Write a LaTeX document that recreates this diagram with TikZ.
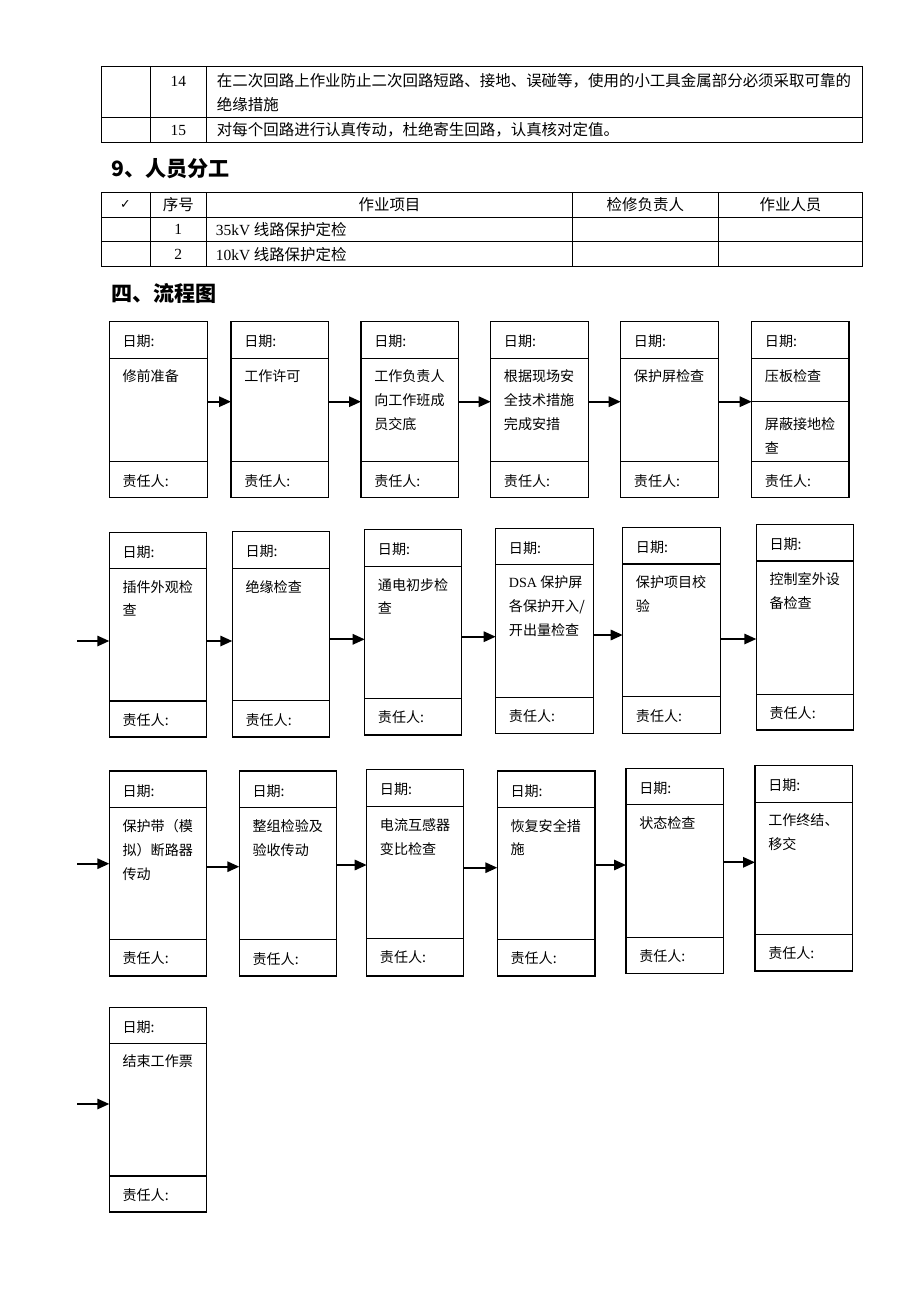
\documentclass[tikz,border=0pt]{standalone}
\usepackage{fontspec}
\setmainfont{Liberation Serif}
\newfontfamily\cjk{Noto Sans CJK SC}
\newfontfamily\lat{Liberation Serif}
\newfontfamily\sym{DejaVu Sans}
\usetikzlibrary{arrows.meta, positioning}

\newcommand\px{0.25mm}
% one box of the flow chart: name, left, top, right, date line, name line, bottom, task
\newcommand\flowbox[8]{%
  \node [box, minimum width={(#4-#2)*\px}, minimum height={(#7-#3)*\px}] (#1) at (#2,#3) {};
  \draw [boxline] (#2,#5) -- (#4,#5);                                  % under the date
  \draw [boxline] (#2,#6) -- (#4,#6);                                  % above the name
  \node [boxtext] (#1-date) at (#2+13,#3+20) {日期:};
  \node [boxtext, anchor=north west] (#1-task) at (#2+13,#5+11.5) {#8};
  \node [boxtext] (#1-who) at (#2+13,#6+19) {责任人:};
}
% arrow between two boxes at height y
\newcommand\flowarrow[3]{\draw [arrow] (#1.east |- 0,#3) -- (#2.west |- 0,#3);}

\begin{document}
\begin{tikzpicture}[x=\px, y=-\px,
    box/.style={draw, line width=0.3mm, anchor=north west, inner sep=0pt, outer sep=0pt},
    boxline/.style={line width=0.3mm},
    boxtext/.style={font=\cjk\fontsize{10}{17}\selectfont, anchor=west, align=left, inner sep=0pt},
    cell/.style={font=\cjk\fontsize{11}{16}\selectfont, inner sep=0pt},
    heading/.style={font=\cjk\bfseries\fontsize{15}{18}\selectfont, anchor=west, inner sep=0pt},
    grid/.style={line width=0.25mm},
    arrow/.style={line width=0.45mm, -{Triangle[length=3mm, width=2.6mm]}}]
  \useasboundingbox (0,0) rectangle (920,1302);

  % table left over from the page before
  \draw [grid] (101,66.7) rectangle (862.7,142.3);
  \draw [grid] (150,66.7) -- (150,142.3) (206.7,66.7) -- (206.7,142.3);
  \draw [grid] (101,117.3) -- (862.7,117.3);
  \node [cell] (n14) at (178.3,81) {\lat 14};
  \node [cell, anchor=west] (r14a) at (216.7,81) {在二次回路上作业防止二次回路短路、接地、误碰等，使用的小工具金属部分必须采取可靠的};
  \node [cell, anchor=west] (r14b) at (216.7,105) {绝缘措施};
  \node [cell] (n15) at (178.3,130) {\lat 15};
  \node [cell, anchor=west] (r15) at (216.7,130) {对每个回路进行认真传动，杜绝寄生回路，认真核对定值。};

  % staff table
  \node [heading] (staff) at (111,168.3) {9、人员分工};
  \draw [grid] (101,192.7) rectangle (862.7,266.7);
  \foreach \x in {150,206.7,572.3,718.3}
    \draw [grid] (\x,192.7) -- (\x,266.7);
  \foreach \y in {217.3,241.7}
    \draw [grid] (101,\y) -- (862.7,\y);
  \node [cell] (hcheck) at (125.5,205) {\sym\fontsize{9}{10}\selectfont ✓};
  \node [cell] (hno) at (178.3,205) {序号};
  \node [cell] (hjob) at (389.5,205) {作业项目};
  \node [cell] (hlead) at (645.3,205) {检修负责人};
  \node [cell] (hcrew) at (790.5,205) {作业人员};
  \node [cell] (no1) at (178.3,229.5) {\lat 1};
  \node [cell, anchor=west] (job1) at (215.7,229.5) {{\lat 35kV} 线路保护定检};
  \node [cell] (no2) at (178.3,254.2) {\lat 2};
  \node [cell, anchor=west] (job2) at (215.7,254.2) {{\lat 10kV} 线路保护定检};

  \node [heading] (flow) at (111,293.3) {四、流程图};

  % first row
  \flowbox{b1}{109.3}{321.7}{207.3}{358.3}{461.7}{497.7}{修前准备}
  \flowbox{b2}{231}{321.7}{328.7}{358.3}{461.7}{497.7}{工作许可}
  \flowbox{b3}{361}{321.7}{458.7}{358.3}{461.7}{497.7}{工作负责人\\向工作班成\\员交底}
  \flowbox{b4}{490.7}{321.7}{588.3}{358.3}{461.7}{497.7}{根据现场安\\全技术措施\\完成安措}
  \flowbox{b5}{620.7}{321.7}{718.3}{358.3}{461.7}{497.7}{保护屏检查}
  \flowbox{b6}{751.7}{321.7}{849}{358.3}{461.7}{497.7}{压板检查\\[17pt]屏蔽接地检\\查}
  \draw [boxline] (b6.west |- 0,401.7) -- (b6.east |- 0,401.7);       % splits the two checks
  \flowarrow{b1}{b2}{401.7}
  \flowarrow{b2}{b3}{401.7}
  \flowarrow{b3}{b4}{401.7}
  \flowarrow{b4}{b5}{401.7}
  \flowarrow{b5}{b6}{401.7}

  % second row
  \coordinate (in2) at (77,641);
  \flowbox{b7}{109.3}{532.3}{206.7}{568.3}{701}{737}{插件外观检\\查}
  \flowbox{b8}{232.3}{531.7}{329.7}{568.3}{700.7}{737}{绝缘检查}
  \flowbox{b9}{364.7}{529.7}{461.7}{566.3}{698.3}{735}{通电初步检\\查}
  \flowbox{b10}{495.7}{528.3}{593.3}{564.3}{697.3}{733.3}{{\lat DSA} 保护屏\\各保护开入/\\开出量检查}
  \flowbox{b11}{622.7}{527.7}{720.3}{564}{696.7}{733.3}{保护项目校\\验}
  \flowbox{b12}{756.3}{524.3}{853.3}{561}{694.3}{730}{控制室外设\\备检查}
  \draw [arrow] (in2) -- (b7.west |- in2);
  \flowarrow{b7}{b8}{641}
  \flowarrow{b8}{b9}{639.3}
  \flowarrow{b9}{b10}{636.7}
  \flowarrow{b10}{b11}{635}
  \flowarrow{b11}{b12}{639}

  % third row
  \coordinate (in3) at (77,863.7);
  \flowbox{b13}{109.3}{771}{206.7}{807.7}{939.3}{976}{保护带（模\\拟）断路器\\传动}
  \flowbox{b14}{239.3}{771}{336.7}{807.7}{939.7}{976}{整组检验及\\验收传动}
  \flowbox{b15}{366.7}{769.7}{463.3}{806.7}{938.3}{976}{电流互感器\\变比检查}
  \flowbox{b16}{497.3}{771}{595}{807.3}{939.3}{976}{恢复安全措\\施}
  \flowbox{b17}{626}{768.3}{723.3}{804.3}{937.3}{973.3}{状态检查}
  \flowbox{b18}{755}{765.7}{852.3}{802.3}{934.3}{971}{工作终结、\\移交}
  \draw [arrow] (in3) -- (b13.west |- in3);
  \flowarrow{b13}{b14}{866.7}
  \flowarrow{b14}{b15}{865}
  \flowarrow{b15}{b16}{867.7}
  \flowarrow{b16}{b17}{865}
  \flowarrow{b17}{b18}{862.3}

  % last box
  \coordinate (in4) at (77,1104);
  \flowbox{b19}{109.3}{1007.3}{206.7}{1043.3}{1176}{1212}{结束工作票}
  \draw [arrow] (in4) -- (b19.west |- in4);
\end{tikzpicture}
\end{document}
